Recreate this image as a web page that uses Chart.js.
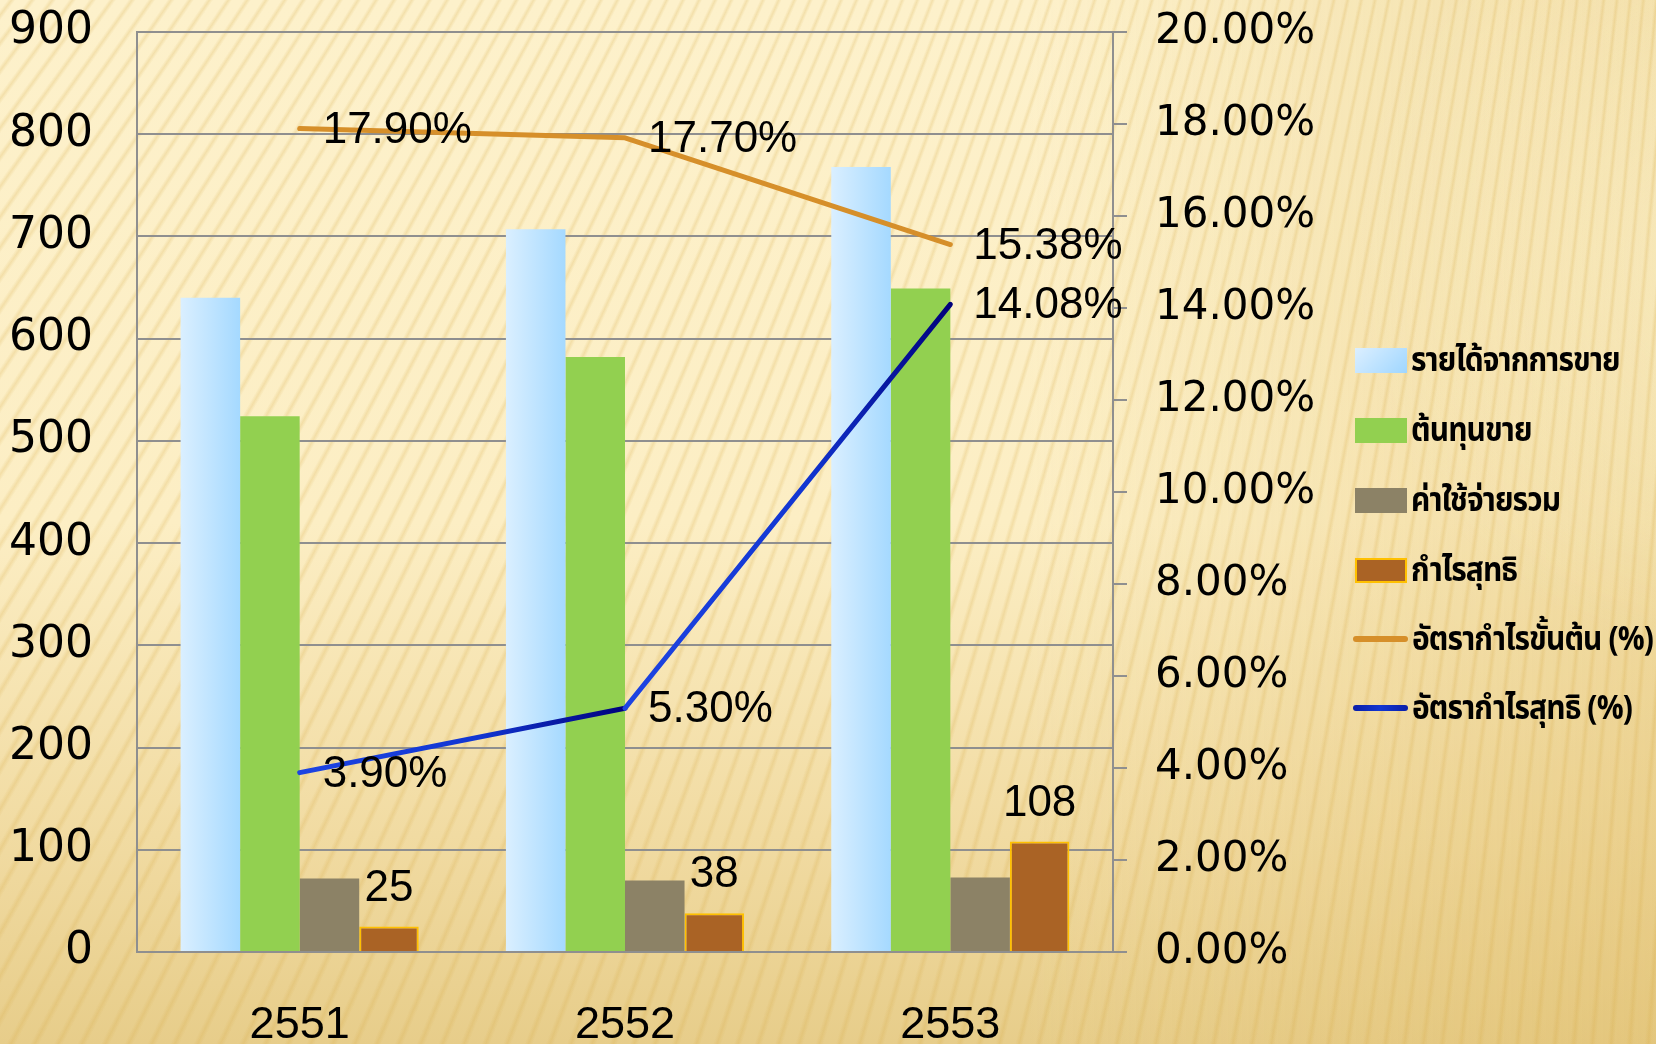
<!DOCTYPE html>
<html>
<head>
<meta charset="utf-8">
<script src="https://cdn.jsdelivr.net/npm/chart.js@4.4.1/dist/chart.umd.min.js"></script>
<style>
html,body{margin:0;padding:0;width:1656px;height:1044px;overflow:hidden;}
body{
  background:
    repeating-conic-gradient(from 0deg at 1900px -2500px, rgba(214,170,70,0) 0deg 0.1deg, rgba(214,170,70,0.24) 0.16deg, rgba(214,170,70,0) 0.22deg 0.3deg),
    radial-gradient(ellipse 520px 560px at 1720px 260px, rgba(255,248,215,0.45), rgba(255,248,215,0) 70%),
    linear-gradient(90deg, rgba(225,190,105,0) 62%, rgba(222,186,100,0.35) 100%),
    linear-gradient(180deg, #FDF1CB 0%, #FCEEC4 50%, #F1DBA2 80%, #E7CD8A 100%);
}
#wrap{position:absolute;left:0;top:0;width:1656px;height:1044px;}
#legend{position:absolute;left:0;top:0;width:1656px;height:1044px;pointer-events:none;}
.item{position:absolute;left:1353px;height:40px;display:flex;align-items:center;white-space:nowrap;}
.sw{flex:none;}
.txt{display:inline-block;transform:scaleX(0.88);transform-origin:left center;font-family:"Noto Sans Thai","Noto Sans Thai UI","Loma","Garuda","Tlwg Typo","Waree","Norasi","Kinnari","Sawasdee","Umpush","Laksaman","Noto Sans",sans-serif;font-weight:bold;font-size:34px;color:#000;margin-left:4px;letter-spacing:-1px;}
</style>
</head>
<body>
<div id="wrap"><canvas id="c" width="1656" height="1044" style="width:1656px;height:1044px;display:block"></canvas></div>
<div id="legend"></div>
<script>
const categories = ['2551', '2552', '2553'];
const revenue = [640, 707, 768];
const costOfSales = [524, 582, 649];
const totalExpenses = [72, 70, 73];
const netProfit = [25, 38, 108];
const grossMarginPct = [17.90, 17.70, 15.38];
const netMarginPct = [3.90, 5.30, 14.08];
const seriesNames = ['รายได้จากการขาย', 'ต้นทุนขาย', 'ค่าใช้จ่ายรวม', 'กำไรสุทธิ', 'อัตรากำไรขั้นต้น (%)', 'อัตรากำไรสุทธิ (%)'];
const leftTicks = [0, 100, 200, 300, 400, 500, 600, 700, 800, 900];
const rightTicks = [0, 2, 4, 6, 8, 10, 12, 14, 16, 18, 20];

const GRID = '#8F8F8F';
const canvas = document.getElementById('c');
const ctx2d = canvas.getContext('2d');

function blueBarFill(c) {
  const el = c.element;
  if (!el || el.width === undefined || !isFinite(el.x)) return '#C2E4FF';
  const g = c.chart.ctx.createLinearGradient(el.x - el.width / 2, 0, el.x + el.width / 2, 0);
  g.addColorStop(0, '#DAEFFF');
  g.addColorStop(1, '#A5D9FF');
  return g;
}

function blueSegment(s) {
  const g = ctx2d.createLinearGradient(s.p0.x, s.p0.y, s.p1.x, s.p1.y);
  g.addColorStop(0, '#1D44E2');
  g.addColorStop(0.55, '#1236D2');
  g.addColorStop(1, '#00007C');
  return g;
}

const labelPlugin = {
  id: 'valueLabels',
  afterDatasetsDraw(chart) {
    const ctx = chart.ctx;
    ctx.save();
    ctx.fillStyle = '#000';
    ctx.font = '44px "Liberation Sans", Arial, sans-serif';
    chart.data.datasets.forEach((ds, di) => {
      const meta = chart.getDatasetMeta(di);
      if (ds.type === 'line') {
        ctx.textAlign = 'left';
        ctx.textBaseline = 'middle';
        meta.data.forEach((pt, i) => {
          ctx.fillText(ds.data[i].toFixed(2) + '%', pt.x + 23, pt.y + 2);
        });
      } else if (ds.showValue) {
        ctx.textAlign = 'center';
        ctx.textBaseline = 'middle';
        meta.data.forEach((bar, i) => {
          ctx.fillText(String(ds.data[i]), bar.x, bar.y - 38);
        });
      }
    });
    ctx.restore();
  }
};

const chart = new Chart(canvas, {
  data: {
    labels: categories,
    datasets: [
      { type: 'bar', label: seriesNames[0], data: revenue, yAxisID: 'y', order: 2,
        backgroundColor: blueBarFill, borderWidth: 0 },
      { type: 'bar', label: seriesNames[1], data: costOfSales, yAxisID: 'y', order: 2,
        backgroundColor: '#92D050', borderWidth: 0 },
      { type: 'bar', label: seriesNames[2], data: totalExpenses, yAxisID: 'y', order: 2,
        backgroundColor: '#8C8266', borderWidth: 0 },
      { type: 'bar', label: seriesNames[3], data: netProfit, yAxisID: 'y', order: 2,
        backgroundColor: '#AA6325', borderColor: '#FFC000', borderWidth: 2, showValue: true },
      { type: 'line', label: seriesNames[4], data: grossMarginPct, yAxisID: 'y1', order: 0,
        borderColor: '#D68F2A', borderWidth: 5, pointRadius: 0, tension: 0,
        borderCapStyle: 'round', borderJoinStyle: 'round' },
      { type: 'line', label: seriesNames[5], data: netMarginPct, yAxisID: 'y1', order: 0,
        borderColor: '#1236D2', borderWidth: 5, pointRadius: 0, tension: 0,
        borderCapStyle: 'round', borderJoinStyle: 'round',
        segment: { borderColor: blueSegment } }
    ]
  },
  options: {
    responsive: false,
    animation: false,
    events: [],
    layout: { padding: { top: 32, left: 0, right: 0, bottom: 0 } },
    datasets: { bar: { categoryPercentage: 0.732, barPercentage: 1 } },
    plugins: { legend: { display: false }, tooltip: { enabled: false } },
    scales: {
      x: {
        grid: { display: false, drawTicks: false },
        border: { display: true, color: GRID, width: 2 },
        ticks: { color: '#000', padding: 47, font: { family: '"Liberation Sans", Arial, sans-serif', size: 45 } },
        afterFit: (s) => { s.height = 92; s.paddingLeft = 0; s.paddingRight = 0; }
      },
      y: {
        position: 'left',
        min: 0, max: 900,
        afterBuildTicks: (s) => { s.ticks = leftTicks.map(v => ({ value: v })); },
        grid: { color: GRID, lineWidth: 2, drawTicks: false },
        border: { display: true, color: GRID, width: 2 },
        ticks: { color: '#000', padding: 44, font: { family: '"DejaVu Sans", sans-serif', size: 44 } },
        afterFit: (s) => { s.width = 137; s.paddingTop = 0; s.paddingBottom = 0; }
      },
      y1: {
        position: 'right',
        min: 0, max: 20,
        afterBuildTicks: (s) => { s.ticks = rightTicks.map(v => ({ value: v })); },
        grid: { drawOnChartArea: false, drawTicks: true, tickLength: 14, color: GRID, lineWidth: 2 },
        border: { display: true, color: GRID, width: 2 },
        ticks: { color: '#000', padding: 28, crossAlign: 'near',
          font: { family: '"DejaVu Sans", sans-serif', size: 42 },
          callback: (v) => Number(v).toFixed(2) + '%' },
        afterFit: (s) => { s.width = 1656 - 1113; s.paddingTop = 0; s.paddingBottom = 0; }
      }
    }
  },
  plugins: [labelPlugin]
});
chart.update('none');

// Legend built from the series names
const legendStyles = [
  { kind: 'box', fill: 'linear-gradient(135deg,#DCEFFF,#9FD6FF)', border: 'none', center: 360 },
  { kind: 'box', fill: '#92D050', border: 'none', center: 430 },
  { kind: 'box', fill: '#8C8266', border: 'none', center: 500 },
  { kind: 'box', fill: '#AA6325', border: '2px solid #FFC000', center: 570 },
  { kind: 'line', fill: '#D68F2A', center: 639 },
  { kind: 'line', fill: 'linear-gradient(90deg,#0A1EA8,#1236D2,#0A1EA8)', center: 708 }
];
const legend = document.getElementById('legend');
seriesNames.forEach((name, i) => {
  const st = legendStyles[i];
  const item = document.createElement('div');
  item.className = 'item';
  item.style.top = (st.center - 20) + 'px';
  const sw = document.createElement('div');
  sw.className = 'sw';
  if (st.kind === 'box') {
    sw.style.width = '52px'; sw.style.height = '25px'; sw.style.marginLeft = '2px';
    sw.style.background = st.fill; sw.style.border = st.border; sw.style.boxSizing = 'border-box';
  } else {
    sw.style.width = '55px'; sw.style.height = '6px'; sw.style.borderRadius = '3px';
    sw.style.background = st.fill;
  }
  const tx = document.createElement('span');
  tx.className = 'txt';
  tx.textContent = name;
  item.appendChild(sw);
  item.appendChild(tx);
  legend.appendChild(item);
});
</script>
</body>
</html>
